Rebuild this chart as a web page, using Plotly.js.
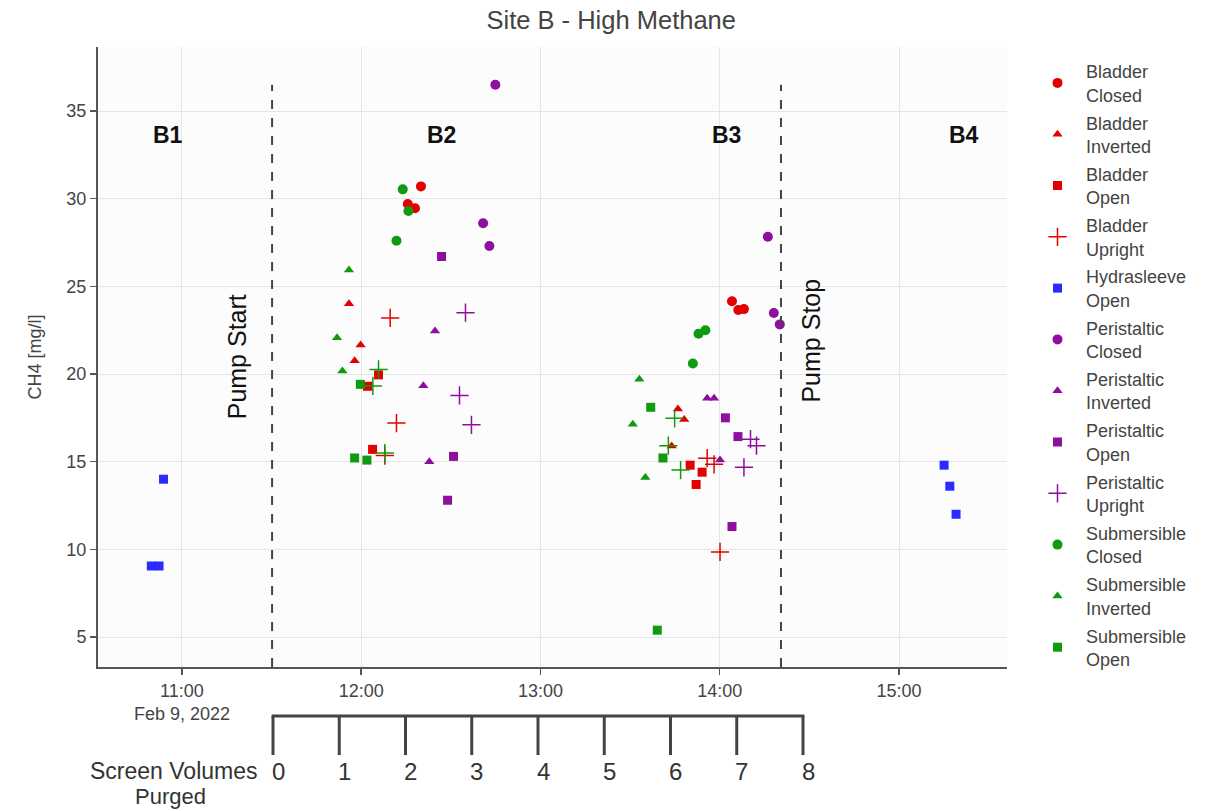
<!DOCTYPE html>
<html>
<head>
<meta charset="utf-8">
<script src="https://cdn.plot.ly/plotly-3.0.1.min.js"></script>
<style>html,body{margin:0;padding:0;background:#fff;}#chart{width:1208px;height:811px;}</style>
</head>
<body>
<div id="chart"></div>
<script>
const DAY = '2022-02-09 ';

// ---- data (time of sample, CH4 mg/l) ----
const bladderClosedT = ['12:20:00','12:15:36','12:18:00','14:04:06','14:06:12','14:08:06'];
const bladderClosedV = [30.7, 29.7, 29.45, 24.15, 23.65, 23.7];

const bladderInvertedT = ['11:55:54','11:59:48','11:57:48','13:46:00','13:48:06','13:43:54'];
const bladderInvertedV = [24.0, 21.65, 20.75, 18.0, 17.4, 15.9];

const bladderOpenT = ['12:05:48','12:02:06','12:03:48','13:50:06','13:54:06','13:52:06'];
const bladderOpenV = [19.95, 19.3, 15.7, 14.8, 14.4, 13.7];

const bladderUprightT = ['12:09:42','12:11:48','12:07:54','13:55:48','13:58:06','14:00:06'];
const bladderUprightV = [23.2, 17.2, 15.35, 15.2, 14.85, 9.85];

const hydraOpenT = ['10:49:45','10:52:20','10:53:50','15:15:06','15:17:00','15:19:06'];
const hydraOpenV = [9.05, 9.05, 14.0, 14.8, 13.6, 12.0];

const periClosedT = ['12:44:54','12:40:48','12:42:54','14:16:06','14:18:06','14:20:06'];
const periClosedV = [36.5, 28.6, 27.3, 27.83, 23.48, 22.83];

const periInvertedT = ['12:24:42','12:20:48','12:22:48','13:55:48','13:58:06','14:00:06'];
const periInvertedV = [22.45, 19.33, 15.0, 18.62, 18.62, 15.1];

const periOpenT = ['12:26:54','12:30:54','12:28:54','14:01:54','14:06:06','14:04:06'];
const periOpenV = [26.7, 15.3, 12.8, 17.5, 16.43, 11.3];

const periUprightT = ['12:34:54','12:32:54','12:36:54','14:10:18','14:12:18','14:08:06'];
const periUprightV = [23.5, 18.78, 17.1, 16.28, 15.91, 14.68];

const subClosedT = ['12:13:54','12:15:48','12:11:48','13:55:12','13:52:54','13:51:00'];
const subClosedV = [30.53, 29.3, 27.6, 22.5, 22.3, 20.6];

const subInvertedT = ['11:55:54','11:51:54','11:53:42','13:33:06','13:30:54','13:35:06'];
const subInvertedV = [25.93, 22.07, 20.17, 19.7, 17.13, 14.1];

const subOpenT = ['11:59:42','11:57:48','12:01:54','13:36:54','13:41:00','13:39:06'];
const subOpenV = [19.41, 15.21, 15.09, 18.1, 15.21, 5.39];

const subUprightT = ['12:05:48','12:03:54','12:07:54','13:44:54','13:42:48','13:46:54'];
const subUprightV = [20.26, 19.32, 15.49, 17.47, 15.91, 14.52];

// events & section labels
const sectionLabels = ['B1','B2','B3','B4'];
const sectionTimes = ['10:55:20','12:26:48','14:02:06','15:21:42'];
const sectionY = 33.63;
const pumpStartT = '11:30:10';
const pumpStopT = '14:20:30';
const screenVolumes = [0,1,2,3,4,5,6,7,8];

// ---- styling ----
const RED = '#e30000', GREEN = '#0f9a0f', PURPLE = '#8e0f9e', BLUE = '#2b2bff';
const FONT = 'Liberation Sans, Arial, sans-serif';

function tr(name, T, V, color, symbol, size, showlegend) {
  const isCross = symbol === 'cross-thin';
  return {
    type: 'scatter', mode: 'markers', name: name, legendgroup: name,
    showlegend: showlegend !== false,
    x: T.map(t => DAY + t), y: V,
    marker: {
      color: color, symbol: symbol, size: size,
      line: isCross ? {color: color, width: 1.5} : {width: 0}
    }
  };
}

const data = [
  tr('Bladder<br>Closed', bladderClosedT, bladderClosedV, RED, 'circle', 10),
  tr('Bladder<br>Inverted', bladderInvertedT, bladderInvertedV, RED, 'triangle-up', 9),
  tr('Bladder<br>Open', bladderOpenT, bladderOpenV, RED, 'square', 9),
  tr('Bladder<br>Upright', bladderUprightT, bladderUprightV, RED, 'cross-thin', 13),
  tr('Hydrasleeve<br>Open', hydraOpenT, hydraOpenV, BLUE, 'square', 9),
  tr('Peristaltic<br>Closed', periClosedT, periClosedV, PURPLE, 'circle', 10),
  tr('Peristaltic<br>Inverted', periInvertedT, periInvertedV, PURPLE, 'triangle-up', 9),
  tr('Peristaltic<br>Open', periOpenT, periOpenV, PURPLE, 'square', 9),
  tr('Peristaltic<br>Upright', periUprightT, periUprightV, PURPLE, 'cross-thin', 13),
  tr('Submersible<br>Closed', subClosedT, subClosedV, GREEN, 'circle', 10),
  tr('Submersible<br>Inverted', subInvertedT, subInvertedV, GREEN, 'triangle-up', 9),
  tr('Submersible<br>Open', subOpenT, subOpenV, GREEN, 'square', 9),
  tr('Submersible<br>Upright', subUprightT, subUprightV, GREEN, 'cross-thin', 13, false)
];

const yRange = [3.289, 38.65];
const xRange = [DAY + '10:31:54', DAY + '15:36:09'];

// ruler geometry (paper coords)
const rulerLeft = (273 - 98) / 909, rulerRight = (803 - 98) / 909;
const rulerTop = -0.079, rulerBottom = -0.142, rulerLabelY = -0.168;
const n = screenVolumes.length - 1;
const rulerX = screenVolumes.map(v => rulerLeft + (rulerRight - rulerLeft) * v / screenVolumes[n]);

const shapes = [
  {type:'line', xref:'x', yref:'y', x0: DAY + pumpStartT, x1: DAY + pumpStartT, y0: yRange[0], y1: 36.5,
   line:{color:'#444', width:2, dash:'dash'}},
  {type:'line', xref:'x', yref:'y', x0: DAY + pumpStopT, x1: DAY + pumpStopT, y0: yRange[0], y1: 36.5,
   line:{color:'#444', width:2, dash:'dash'}},
  {type:'line', xref:'paper', yref:'paper', x0: rulerLeft - 0.0015, x1: rulerRight + 0.0015, y0: rulerTop, y1: rulerTop,
   line:{color:'#444', width:3}}
];
rulerX.forEach(x => shapes.push({type:'line', xref:'paper', yref:'paper', x0:x, x1:x, y0:rulerTop, y1:rulerBottom,
  line:{color:'#444', width:3}}));

const annotations = [];
sectionLabels.forEach((s, i) => annotations.push({
  x: DAY + sectionTimes[i], y: sectionY, xref:'x', yref:'y', text: '<b>' + s + '</b>', showarrow:false,
  xanchor:'center', yanchor:'middle',
  font:{family: FONT, size: 23, color:'#111'}
}));
annotations.push({x: DAY + '11:18:42', y: 21.0, xref:'x', yref:'y', text:'Pump Start', textangle:-90, showarrow:false,
  xanchor:'center', yanchor:'middle', font:{family: FONT, size: 25, color:'#111'}});
annotations.push({x: DAY + '14:30:30', y: 21.9, xref:'x', yref:'y', text:'Pump Stop', textangle:-90, showarrow:false,
  xanchor:'center', yanchor:'middle', font:{family: FONT, size: 25, color:'#111'}});
screenVolumes.forEach((v, i) => annotations.push({
  x: rulerX[i], y: rulerLabelY, xref:'paper', yref:'paper', text: String(v), showarrow:false, xshift: 5,
  xanchor:'center', yanchor:'middle',
  font:{family: FONT, size: 24, color:'#333'}
}));
annotations.push({x: (259 - 98) / 909, y: rulerLabelY, xref:'paper', yref:'paper', xanchor:'right', yanchor:'middle',
  text:'Screen Volumes', showarrow:false, font:{family: FONT, size: 23, color:'#333'}});
annotations.push({x: (170 - 98) / 909, y: (667 - 796) / 620, xref:'paper', yref:'paper', xanchor:'center', yanchor:'middle',
  text:'Purged', showarrow:false, font:{family: FONT, size: 22, color:'#333'}});

const layout = {
  width: 1208, height: 811,
  margin: {l: 98, r: 201, t: 47, b: 144},
  paper_bgcolor: '#ffffff', plot_bgcolor: '#fcfcfc',
  font: {family: FONT, color: '#444'},
  title: {text: 'Site B - High Methane', x: 0.506, xref: 'container', y: 1 - 20 / 811, yanchor: 'middle',
          font: {family: FONT, size: 25.5, color: '#444'}},
  xaxis: {
    type: 'date', range: xRange, dtick: 3600000, tick0: DAY + '11:00',
    showgrid: true, gridcolor: '#e6e6e6', gridwidth: 1, zeroline: false,
    showline: true, linecolor: '#555', linewidth: 2,
    ticks: 'outside', ticklen: 6, tickcolor: '#555', tickwidth: 1.5,
    tickfont: {family: FONT, size: 18, color: '#444'}
  },
  yaxis: {
    range: yRange, dtick: 5, tick0: 0,
    showgrid: true, gridcolor: '#e6e6e6', gridwidth: 1, zeroline: false,
    showline: true, linecolor: '#555', linewidth: 2,
    ticks: 'outside', ticklen: 6, tickcolor: '#555', tickwidth: 1.5,
    tickfont: {family: FONT, size: 18, color: '#444'},
    title: {text: 'CH4 [mg/l]', standoff: 20, font: {family: FONT, size: 18, color: '#444'}}
  },
  legend: {x: (1029 - 98) / 909, xanchor: 'left', y: 1 - 6 / 620, yanchor: 'top', tracegroupgap: 1.5, itemwidth: 47,
           font: {family: FONT, size: 18, color: '#444'}, bgcolor: 'rgba(0,0,0,0)'},
  shapes: shapes,
  annotations: annotations
};

Plotly.newPlot('chart', data, layout, {displayModeBar: false, staticPlot: true});
</script>
</body>
</html>
